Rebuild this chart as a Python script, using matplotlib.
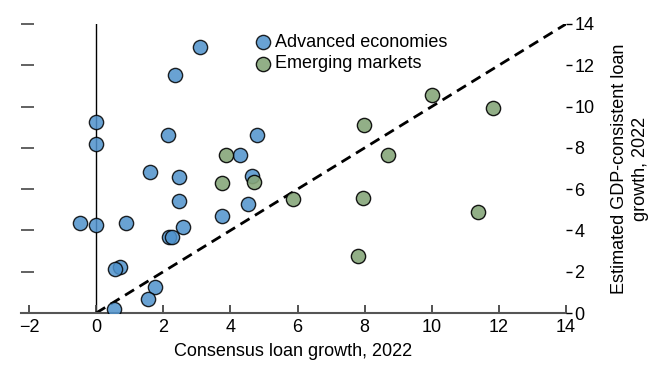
import matplotlib.pyplot as plt

plt.rcParams['font.family'] = ['Liberation Sans Narrow', 'Liberation Sans', 'DejaVu Sans']

# Advanced economies: consensus loan growth (x) vs GDP-consistent loan growth (y)
adv_x = [3.10, 2.36, 0.0, 0.0, 2.15, 4.80, 4.30, 1.61, 2.48, 4.63, 2.48, 4.53, 3.75,
         -0.48, 0.0, 0.90, 2.59, 2.17, 2.25, 0.72, 0.57, 1.74, 1.54, 0.52]
adv_y = [12.9, 11.55, 9.27, 8.2, 8.6, 8.6, 7.67, 6.84, 6.6, 6.65, 5.44, 5.29, 4.72,
         4.38, 4.24, 4.38, 4.16, 3.66, 3.7, 2.22, 2.12, 1.25, 0.68, 0.18]

# Emerging markets
em_x = [3.86, 3.75, 4.70, 5.86, 7.98, 8.71, 10.0, 11.83, 7.94, 11.38, 7.80]
em_y = [7.64, 6.31, 6.34, 5.52, 9.11, 7.67, 10.55, 9.94, 5.55, 4.90, 2.77]

ticks_x = [-2, 0, 2, 4, 6, 8, 10, 12, 14]
ticks_y = [0, 2, 4, 6, 8, 10, 12, 14]

fig = plt.figure(figsize=(6.67, 3.72), dpi=100)
ax = fig.add_axes([0.0315, 0.1586, 0.8171, 0.7769])

ax.plot([0, 0], [0, 14], color='black', lw=1, zorder=1)
ax.plot([0, 14], [0, 14], color='black', lw=2, ls=(0, (3.8, 2.3)), zorder=2)

ax.scatter(adv_x, adv_y, s=105, color='#4f92cc', alpha=0.85, edgecolor='black',
           linewidth=1, zorder=3, label='Advanced economies')
ax.scatter(em_x, em_y, s=105, color='#86a67a', alpha=0.9, edgecolor='black',
           linewidth=1, zorder=3, label='Emerging markets')

ax.set_xlim(-2.24, 14)
ax.set_ylim(0, 14)
ax.set_xticks(ticks_x)
ax.set_xticklabels([str(t).replace('-', '\u2212') for t in ticks_x])
ax.set_yticks(ticks_y[1:])
ax.tick_params(axis='x', direction='in', length=6, width=1.3, color='#444444',
               labelsize=13, pad=4)
ax.tick_params(axis='y', direction='in', length=9, width=1.3, color='#555555',
               labelleft=False)
for side in ['top', 'right', 'left']:
    ax.spines[side].set_visible(False)
ax.spines['bottom'].set_color('#555555')
ax.spines['bottom'].set_linewidth(1.5)
ax.set_xlabel('Consensus loan growth, 2022', fontsize=13, labelpad=5)

ax2 = ax.twinx()
ax2.set_ylim(0, 14)
ax2.set_yticks(ticks_y)
ax2.tick_params(axis='y', direction='out', length=4, width=1, color='black',
                labelsize=13, pad=2)
for side in ['top', 'right', 'left', 'bottom']:
    ax2.spines[side].set_visible(False)
ax2.set_ylabel('Estimated GDP-consistent loan\ngrowth, 2022', fontsize=13,
               linespacing=1.3, labelpad=12)

ax.legend(loc='upper left', bbox_to_anchor=(0.405, 1.0), frameon=False, fontsize=13,
          handletextpad=0.1, labelspacing=0.25, borderaxespad=0.15, handlelength=1.2)

fig.savefig('out.png', dpi=100)
